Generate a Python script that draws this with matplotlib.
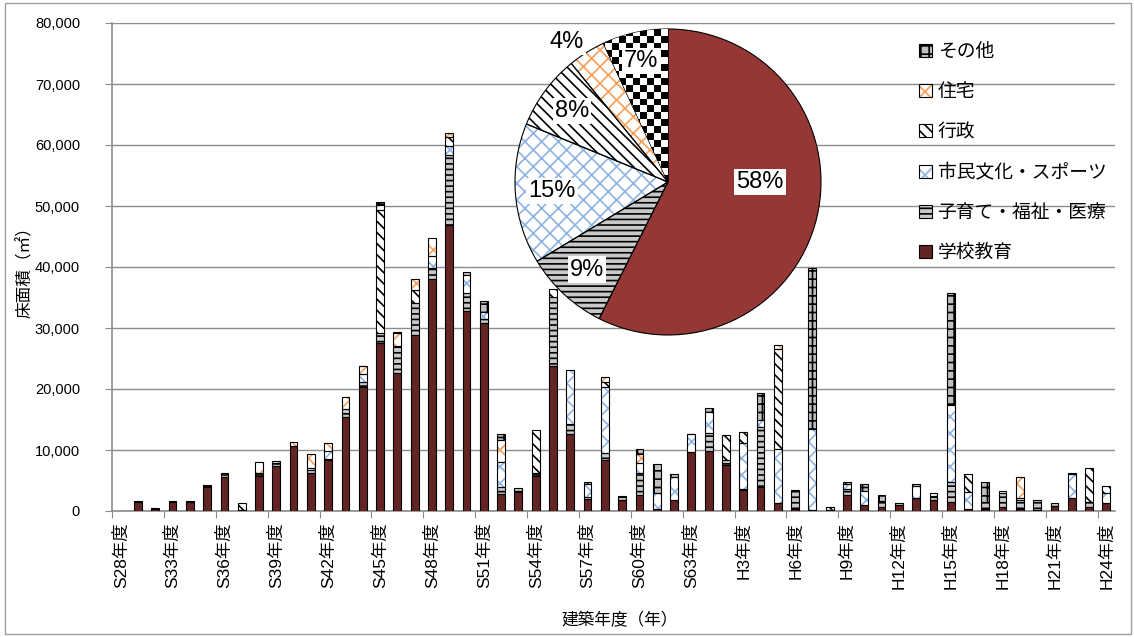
import numpy as np
import matplotlib
matplotlib.use('Agg')
import matplotlib.pyplot as plt
from matplotlib.patches import Patch, Rectangle

plt.rcParams['font.family'] = ['Liberation Sans', 'Noto Sans CJK JP', 'DejaVu Sans']
plt.rcParams['hatch.linewidth'] = 1.2

# --- data (floor area in m2 per construction year) ---
years = (['S28年度', 'S31年度', 'S32年度']
         + ['S%d年度' % n for n in range(33, 64)]
         + ['H%d年度' % n for n in range(1, 25)])

school = [0, 1500, 400, 1400, 1500, 4000, 5600, 0, 5800, 7300,
          10700, 6300, 8400, 15400, 20400, 27500, 22700, 28900, 38000, 46900,
          32800, 30800, 2800, 3100, 5800, 23800, 12600, 2000, 8400, 1800,
          2600, 300, 1800, 9600, 9900, 7500, 3400, 4000, 1300, 400,
          100, 0, 2700, 1000, 700, 1000, 2100, 1800, 1400, 400,
          400, 700, 400, 200, 900, 2100, 700, 1300]
welfare = [0, 100, 100, 200, 100, 300, 600, 200, 400, 500,
           0, 400, 200, 1300, 800, 1600, 4300, 5200, 1800, 11500,
           2900, 700, 1100, 600, 400, 11300, 1600, 300, 1100, 700,
           3600, 0, 0, 0, 2900, 800, 200, 9800, 0, 3000,
           0, 200, 900, 0, 1000, 300, 0, 600, 3400, 0,
           1000, 2300, 1400, 1600, 400, 0, 800, 0]
culture = [0, 0, 0, 0, 0, 0, 0, 0, 0, 400,
           0, 300, 1200, 0, 1300, 0, 0, 0, 2000, 1500,
           3000, 1100, 4100, 0, 0, 0, 8900, 2100, 10900, 0,
           1600, 2600, 3800, 3000, 3400, 0, 7600, 1100, 8900, 0,
           13400, 0, 900, 2200, 0, 0, 2000, 600, 12600, 2700,
           0, 300, 300, 0, 0, 4000, 0, 1600]
admin = [0, 0, 0, 0, 0, 0, 0, 1100, 0, 0,
         0, 0, 0, 0, 0, 20200, 0, 2200, 0, 1400,
         0, 0, 0, 0, 7000, 1300, 0, 0, 800, 0,
         0, 0, 0, 0, 0, 4200, 1800, 0, 16300, 0,
         0, 500, 0, 0, 0, 0, 0, 0, 0, 3000,
         0, 0, 0, 0, 0, 0, 5600, 1200]
housing = [0, 0, 0, 0, 0, 0, 0, 0, 1900, 0,
           600, 2400, 1300, 2000, 1200, 800, 2200, 1800, 2900, 700,
           0, 0, 3700, 0, 0, 0, 0, 0, 800, 0,
           1500, 0, 0, 0, 0, 0, 0, 0, 700, 0,
           0, 0, 0, 0, 0, 0, 0, 0, 0, 0,
           0, 0, 3500, 0, 0, 0, 0, 0]
other = [0, 0, 0, 0, 0, 0, 0, 0, 0, 0,
         0, 0, 0, 0, 100, 600, 100, 0, 0, 0,
         400, 1800, 900, 0, 0, 0, 0, 400, 0, 0,
         900, 4800, 400, 100, 700, 0, 0, 4400, 0, 0,
         26300, 0, 300, 1300, 1000, 0, 400, 0, 18400, 0,
         3400, 0, 0, 0, 0, 100, 0, 0]

names = ['学校教育', '子育て・福祉・医療', '市民文化・スポーツ', '行政', '住宅', 'その他']
pie_share = [58, 9, 15, 8, 4, 7]

# --- styles (bottom of stack first) ---
faces = ['#632523', '#c8c8c8', 'white', 'white', 'white', '#bfbfbf']
hatch_col = ['#632523', 'black', '#8db3e2', 'black', '#f5a05a', 'black']
hatches = [None, '---', 'xx', '\\\\\\', 'xx', '++']

fig = plt.figure(figsize=(11.34, 6.37), dpi=100)
fig.patches.append(Rectangle((0.004, 0.005), 0.993, 0.99, transform=fig.transFigure,
                             fill=False, edgecolor='#a0a0a0', linewidth=1))

ax = fig.add_axes([112 / 1134, 1 - 511 / 637, 1003 / 1134, 488 / 637])
x = np.arange(len(years))
bottom = np.zeros(len(years))
for vals, fc, hc, h in zip([school, welfare, culture, admin, housing, other],
                           faces, hatch_col, hatches):
    v = np.array(vals, dtype=float)
    m = v > 0
    ax.bar(x[m], v[m], 0.45, bottom=bottom[m], color=fc, edgecolor=hc,
           hatch=h, linewidth=0, zorder=3)
    ax.bar(x[m], v[m], 0.45, bottom=bottom[m], fill=False,
           edgecolor='black', linewidth=0.8, zorder=4)
    bottom += v

ax.set_xlim(-0.5, len(years) - 0.5)
ax.set_ylim(0, 80000)
ax.set_yticks(np.arange(0, 80001, 10000))
ax.set_yticklabels(['{:,}'.format(v) for v in range(0, 80001, 10000)], fontsize=10.5)
ax.yaxis.grid(True, color='#8c8c8c', linewidth=1, zorder=0)
ax.set_axisbelow(True)

ax.set_xticks(np.arange(-0.5, len(years), 3))
ax.set_xticklabels([])
ax.set_xticks(x[::3], minor=True)
ax.set_xticklabels(years[::3], minor=True, rotation=90, fontsize=12.5)
ax.tick_params(axis='x', which='major', length=5, color='#8c8c8c')
ax.tick_params(axis='x', which='minor', length=0, pad=8)
ax.tick_params(axis='y', length=5, color='#8c8c8c', pad=18)

for s in ['top', 'right']:
    ax.spines[s].set_visible(False)
for s in ['left', 'bottom']:
    ax.spines[s].set_color('#8c8c8c')
    ax.spines[s].set_linewidth(1.2)

fig.text(25 / 1134, 1 - 268 / 637, '床面積（㎡）', fontsize=12, rotation=90,
         ha='center', va='center')
fig.text(620 / 1134, 1 - 620 / 637, '建築年度（年）', fontsize=12, ha='center', va='center')

handles = [(Patch(facecolor=fc, edgecolor=hc, hatch=h, linewidth=0),
            Patch(fill=False, edgecolor='black', linewidth=0.8))
           for fc, hc, h in zip(faces, hatch_col, hatches)]
ax.legend(handles[::-1], names[::-1], loc='upper left', frameon=False,
          bbox_to_anchor=(902 / 1134, 1 - 27 / 637), bbox_transform=fig.transFigure,
          fontsize=13.5, handlelength=0.7, handleheight=0.7, handletextpad=0.3,
          labelspacing=1.22)

# --- pie inset ---
pax = fig.add_axes([515 / 1134, 1 - 335 / 637, 306 / 1134, 306 / 637])
pie_faces = ['#953735'] + faces[1:]
wedges, _ = pax.pie(pie_share, colors=pie_faces, startangle=90, counterclock=False,
                    wedgeprops=dict(linewidth=0))
for w, hc, h in zip(wedges, hatch_col, hatches):
    if h:
        w.set_hatch(h)
        w.set_edgecolor(hc)

# checkerboard for "その他"
n = 44
checker = (np.add.outer(np.arange(n), np.arange(n)) % 2).astype(float)
im = pax.imshow(checker, cmap='gray', extent=(-1, 1, -1, 1), interpolation='nearest', zorder=2)
im.set_clip_path(wedges[5])

pax.pie(pie_share, startangle=90, counterclock=False,
        wedgeprops=dict(fill=False, edgecolor='black', linewidth=0.8))

# label placement: (radius, angle in degrees or None for wedge middle)
label_pos = [(0.6, 0), (0.78, None), (0.76, None), (0.78, None), (1.13, 126), (0.81, None)]
for i, (w, (r, a)) in enumerate(zip(wedges, label_pos)):
    ang = np.deg2rad((w.theta1 + w.theta2) / 2 if a is None else a)
    pax.text(r * np.cos(ang), r * np.sin(ang), '%d%%' % pie_share[i], fontsize=17,
             ha='center', va='center', zorder=5,
             bbox=dict(facecolor='white', edgecolor='none', pad=1.5))
pax.set_xlim(-1.0, 1.0)
pax.set_ylim(-1.0, 1.0)
pax.axis('off')

fig.savefig('out.png', dpi=100)
